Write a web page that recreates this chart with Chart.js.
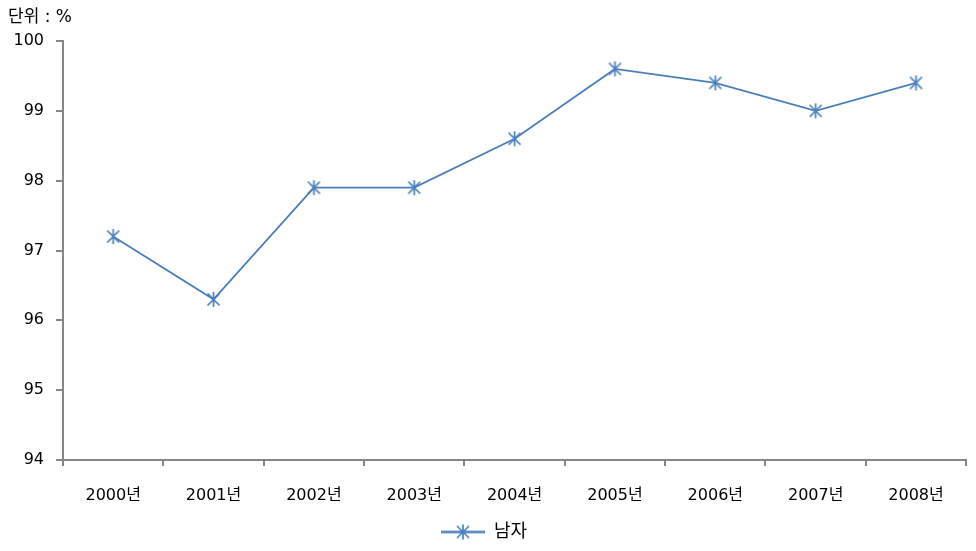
<!DOCTYPE html>
<html>
<head>
<meta charset="utf-8">
<script src="https://cdn.jsdelivr.net/npm/chart.js@4/dist/chart.umd.min.js"></script>
<style>
  html, body { margin: 0; padding: 0; background: #fff; }
  #wrap { width: 976px; height: 551px; }
</style>
</head>
<body>
<div id="wrap"><canvas id="c"></canvas></div>
<script>
const years = ['2000년', '2001년', '2002년', '2003년', '2004년', '2005년', '2006년', '2007년', '2008년'];
const male = [97.2, 96.3, 97.9, 97.9, 98.6, 99.6, 99.4, 99.0, 99.4];
const seriesName = '남자';
const unitLabel = '단위 : %';

const BLUE = '#4a7ebb';
const AXIS = '#868686';
const FONT = "'DejaVu Sans', 'Noto Sans CJK KR', sans-serif";

// asterisk marker: vertical stroke plus two diagonals
function starMarker(lineLen) {
  const size = 17;
  const w = lineLen || size;
  const cv = document.createElement('canvas');
  cv.width = w;
  cv.height = size;
  const g = cv.getContext('2d');
  g.strokeStyle = BLUE;
  const cx = w / 2, cy = size / 2, r = 7.5;
  if (lineLen) {
    g.lineWidth = 2.5;
    g.beginPath();
    g.moveTo(0, cy); g.lineTo(w, cy);
    g.stroke();
  }
  g.lineWidth = 1.7;
  g.beginPath();
  g.moveTo(cx, cy - r); g.lineTo(cx, cy + r);
  g.moveTo(cx - r * 0.8, cy - r * 0.8); g.lineTo(cx + r * 0.8, cy + r * 0.8);
  g.moveTo(cx - r * 0.8, cy + r * 0.8); g.lineTo(cx + r * 0.8, cy - r * 0.8);
  g.stroke();
  return cv;
}

const pointImg = starMarker();
const legendImg = starMarker(44);

const unitText = {
  id: 'unitText',
  afterDraw(chart) {
    const ctx = chart.ctx;
    ctx.save();
    ctx.font = '17px ' + FONT;
    ctx.fillStyle = '#000';
    ctx.textBaseline = 'middle';
    ctx.textAlign = 'left';
    ctx.fillText(unitLabel, 8, 18);
    ctx.restore();
  }
};

new Chart(document.getElementById('c'), {
  type: 'line',
  data: {
    labels: years,
    datasets: [{
      label: seriesName,
      data: male,
      borderColor: BLUE,
      backgroundColor: BLUE,
      borderWidth: 1.8,
      tension: 0,
      pointStyle: pointImg,
      pointRadius: 8,
    }]
  },
  options: {
    responsive: true,
    maintainAspectRatio: false,
    animation: false,
    layout: { padding: { top: 41, right: 8, left: 0, bottom: 0 } },
    plugins: {
      tooltip: { enabled: false },
      legend: {
        position: 'bottom',
        labels: {
          usePointStyle: true,
          pointStyleWidth: 44,
          padding: 6,
          color: '#000',
          font: { family: FONT, size: 18 },
          generateLabels: () => [{
            text: seriesName,
            pointStyle: legendImg,
            fillStyle: BLUE,
            strokeStyle: BLUE,
            lineWidth: 0,
            datasetIndex: 0,
          }]
        }
      }
    },
    scales: {
      x: {
        offset: true,
        grid: {
          offset: true,
          drawOnChartArea: false,
          tickLength: 6,
          color: AXIS,
          lineWidth: 2,
        },
        border: { color: AXIS, width: 2 },
        ticks: {
          color: '#000',
          padding: 20,
          maxRotation: 0,
          font: { family: FONT, size: 16 },
        },
        afterFit: (s) => { s.height = 57; }
      },
      y: {
        min: 94,
        max: 100,
        grid: {
          drawOnChartArea: false,
          tickLength: 7,
          color: AXIS,
          lineWidth: 2,
        },
        border: { color: AXIS, width: 2 },
        ticks: {
          stepSize: 1,
          color: '#000',
          padding: 12,
          font: { family: FONT, size: 16 },
        },
        afterFit: (s) => { s.width = 63; }
      }
    }
  },
  plugins: [unitText]
});
</script>
</body>
</html>
